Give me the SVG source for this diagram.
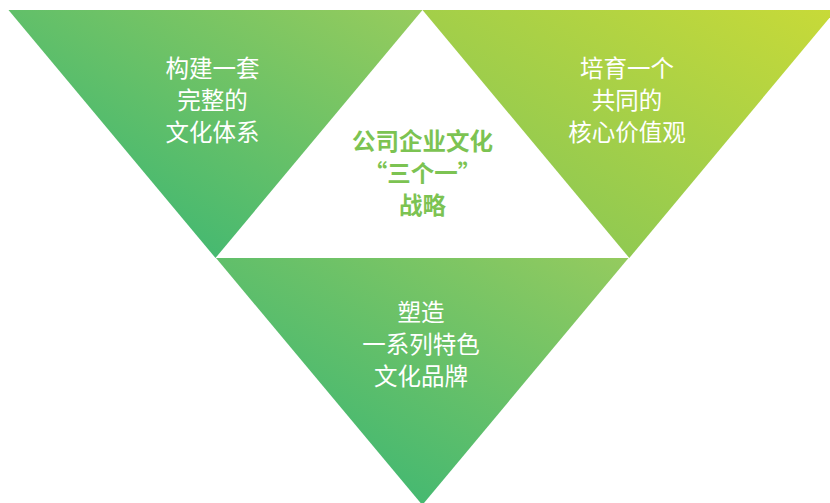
<svg xmlns="http://www.w3.org/2000/svg" width="830" height="503" viewBox="0 0 830 503">
  <defs>
    <linearGradient id="gLeft" x1="0" y1="1" x2="1" y2="0">
      <stop offset="0" stop-color="#2cb377"/>
      <stop offset="1" stop-color="#97cc5c"/>
    </linearGradient>
    <linearGradient id="gRight" x1="0" y1="1" x2="1" y2="0">
      <stop offset="0" stop-color="#7ec45a"/>
      <stop offset="1" stop-color="#c8da38"/>
    </linearGradient>
    <linearGradient id="gBottom" x1="0" y1="1" x2="1" y2="0">
      <stop offset="0" stop-color="#2cb377"/>
      <stop offset="1" stop-color="#95cb5e"/>
    </linearGradient>
    <style>
      .lbl { font-family: "Noto Sans CJK SC", "Noto Sans", sans-serif; font-size: 23.5px; fill: #ffffff; text-anchor: middle; }
      .ctr { font-family: "Noto Sans CJK SC", "Noto Sans", sans-serif; font-size: 23.5px; font-weight: bold; fill: #7cc352; text-anchor: middle; }
    </style>
  </defs>
  <rect width="830" height="503" fill="#ffffff"/>
  <g id="connectors"></g>
  <g id="node-left">
    <polygon points="8.5,10 422.5,10 215.5,258" fill="url(#gLeft)"/>
    <text class="lbl" x="212.5" y="77">构建一套</text>
    <text class="lbl" x="212.5" y="109">完整的</text>
    <text class="lbl" x="212.5" y="141">文化体系</text>
  </g>
  <g id="node-right">
    <polygon points="422.5,10 836,10 629.3,258" fill="url(#gRight)"/>
    <text class="lbl" x="627" y="77">培育一个</text>
    <text class="lbl" x="627" y="109">共同的</text>
    <text class="lbl" x="627" y="141">核心价值观</text>
  </g>
  <g id="node-bottom">
    <polygon points="216,258 628.5,258 422.3,505" fill="url(#gBottom)"/>
    <text class="lbl" x="421" y="321">塑造</text>
    <text class="lbl" x="421" y="353">一系列特色</text>
    <text class="lbl" x="421" y="385">文化品牌</text>
  </g>
  <g id="node-center">
    <text class="ctr" x="422.5" y="150">公司企业文化</text>
    <text class="ctr" x="422.5" y="182">“三个一”</text>
    <text class="ctr" x="422.5" y="214">战略</text>
  </g>
</svg>
